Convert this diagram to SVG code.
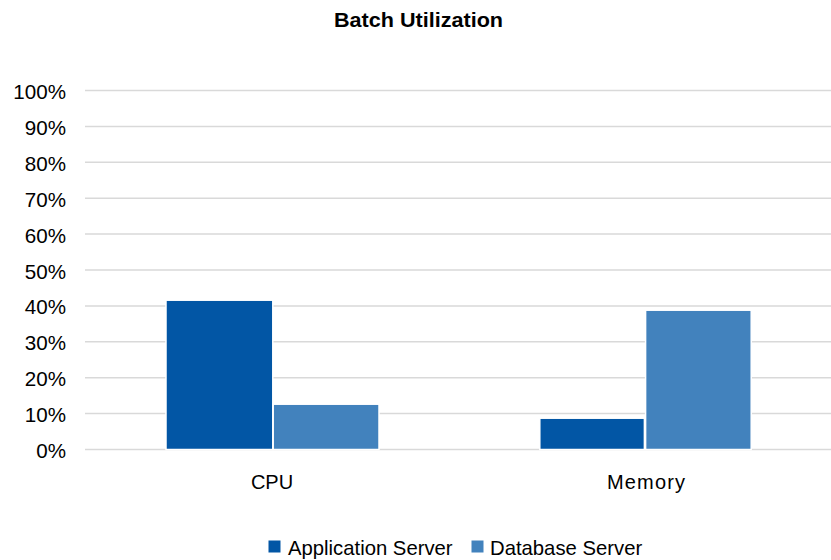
<svg xmlns="http://www.w3.org/2000/svg" width="831" height="560" viewBox="0 0 831 560">
<style>
.t{font-family:"Liberation Sans",Arial,sans-serif;fill:#000}
.ax{font-size:20.6px;text-anchor:end}
.cat{font-size:20px;text-anchor:middle}
.leg{font-size:20.3px}
.grid line{stroke:#D9D9D9;stroke-width:1.5}
.app{fill:#0256A5}
.db{fill:#4282BD}
.bar{stroke:#fff;stroke-width:1.5}
</style>
<rect width="831" height="560" fill="#fff"/>
<text id="title" class="t" x="418.5" y="26.5" font-size="19.5" font-weight="bold" text-anchor="middle" textLength="169" lengthAdjust="spacingAndGlyphs">Batch Utilization</text>
<g class="grid">
<line x1="85" y1="449.5" x2="831" y2="449.5"/>
<line x1="85" y1="413.6" x2="831" y2="413.6"/>
<line x1="85" y1="377.7" x2="831" y2="377.7"/>
<line x1="85" y1="341.8" x2="831" y2="341.8"/>
<line x1="85" y1="305.9" x2="831" y2="305.9"/>
<line x1="85" y1="270" x2="831" y2="270"/>
<line x1="85" y1="234.1" x2="831" y2="234.1"/>
<line x1="85" y1="198.2" x2="831" y2="198.2"/>
<line x1="85" y1="162.3" x2="831" y2="162.3"/>
<line x1="85" y1="126.4" x2="831" y2="126.4"/>
<line x1="85" y1="90.5" x2="831" y2="90.5"/>
</g>
<g id="yaxis" class="t ax">
<text x="66" y="458">0%</text>
<text x="66" y="422.1">10%</text>
<text x="66" y="386.2">20%</text>
<text x="66" y="350.3">30%</text>
<text x="66" y="314.4">40%</text>
<text x="66" y="278.5">50%</text>
<text x="66" y="242.6">60%</text>
<text x="66" y="206.7">70%</text>
<text x="66" y="170.8">80%</text>
<text x="66" y="134.9">90%</text>
<text x="66" y="99">100%</text>
</g>
<g id="cpu">
<rect class="bar app" x="166" y="300.2" width="106.8" height="149.3"/>
<rect class="bar db" x="273.2" y="404.2" width="105.8" height="45.3"/>
<text class="t cat" x="272" y="489">CPU</text>
</g>
<g id="memory">
<rect class="bar app" x="539.8" y="418.2" width="104.6" height="31.3"/>
<rect class="bar db" x="645.6" y="310.2" width="105.6" height="139.3"/>
<text class="t cat" x="646" y="489" textLength="78" lengthAdjust="spacing">Memory</text>
</g>
<g id="legend">
<rect class="app" x="268.5" y="540.5" width="12" height="12"/>
<text class="t leg" x="288" y="555">Application Server</text>
<rect class="db" x="471.5" y="540.5" width="12" height="12"/>
<text class="t leg" x="490" y="555">Database Server</text>
</g>
</svg>
